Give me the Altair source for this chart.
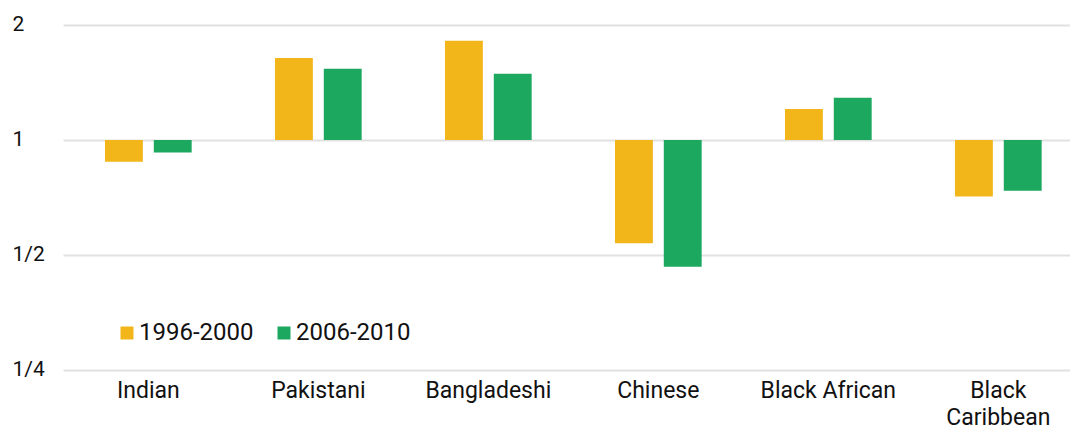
import altair as alt
import pandas as pd

categories = ["Indian", "Pakistani", "Bangladeshi", "Chinese", "Black African", "Black Caribbean"]
periods = ["1996-2000", "2006-2010"]
values_1996_2000 = [0.877, 1.64, 1.82, 0.537, 1.205, 0.711]
values_2006_2010 = [0.928, 1.537, 1.49, 0.466, 1.29, 0.737]
colors = ["#F2B61A", "#1DA860"]
y_ticks = [0.25, 0.5, 1, 2]

rows = []
for c, v1, v2 in zip(categories, values_1996_2000, values_2006_2010):
    rows.append({"category": c, "period": periods[0], "value": v1})
    rows.append({"category": c, "period": periods[1], "value": v2})
df = pd.DataFrame(rows)

FONT = "Roboto"

chart = alt.Chart(df).mark_bar().encode(
    x=alt.X(
        "category:N",
        sort=categories,
        title=None,
        scale=alt.Scale(paddingInner=0.49, paddingOuter=0.2068, align=0.597),
        axis=alt.Axis(
            labelAngle=0,
            domain=False,
            ticks=False,
            grid=False,
            labelPadding=9,
            labelFontSize=23,
            labelFont=FONT,
            labelColor="#111111",
            labelLineHeight=27,
            labelExpr="datum.label == 'Black Caribbean' ? ['Black', 'Caribbean'] : datum.label",
        ),
    ),
    xOffset=alt.XOffset("period:N", sort=periods, scale=alt.Scale(paddingInner=0.224)),
    y=alt.Y(
        "value:Q",
        title=None,
        scale=alt.Scale(type="log", base=2, domain=[0.25, 2]),
        axis=alt.Axis(
            values=y_ticks,
            domain=False,
            ticks=False,
            grid=True,
            gridColor="#e1e1e1",
            gridWidth=2,
            labelAlign="left",
            labelBaseline="alphabetic",
            labelOffset=5,
            labelPadding=51,
            labelFontSize=21,
            labelFont=FONT,
            labelColor="#111111",
            labelExpr="datum.value == 0.25 ? '1/4' : datum.value == 0.5 ? '1/2' : datum.value == 1 ? '1' : '2'",
        ),
    ),
    y2=alt.datum(1),
    color=alt.Color(
        "period:N",
        sort=periods,
        scale=alt.Scale(domain=periods, range=colors),
        legend=alt.Legend(
            title=None,
            orient="none",
            legendX=52,
            legendY=296,
            direction="horizontal",
            symbolType="square",
            symbolSize=169,
            symbolStrokeWidth=0,
            symbolOpacity=1,
            labelFontSize=24,
            labelFont=FONT,
            labelColor="#111111",
            labelOffset=0,
            columnPadding=18,
        ),
    ),
).properties(
    width=1007,
    height=345,
    autosize=alt.AutoSizeParams(type="none"),
    padding={"left": 55, "top": 17, "right": 0, "bottom": 62},
).configure(background="white").configure_view(stroke=None)

chart.save("out.html", embed_options={"renderer": "svg", "actions": False})
